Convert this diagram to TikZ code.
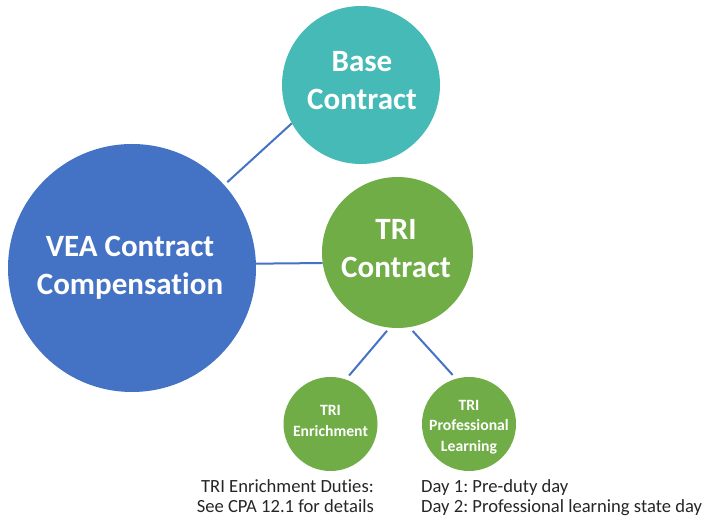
\documentclass[tikz,border=0pt]{standalone}
\usepackage{fontspec}
\setmainfont{Carlito}[RawFeature=-liga]
\definecolor{veablue}{HTML}{4472C4}
\definecolor{baseteal}{HTML}{46BAB6}
\definecolor{trigreen}{HTML}{70AD47}
\definecolor{lineblue}{HTML}{4472C4}
\frenchspacing
\begin{document}
\begin{tikzpicture}[x=1pt,y=-1pt,
  disc/.style={circle, inner sep=0pt, draw=none},
  bigtext/.style={text=white, align=center, inner sep=0pt, font=\fontsize{31}{38}\selectfont\bfseries},
  smalltext/.style={text=white, align=center, inner sep=0pt, font=\fontsize{15.7}{20.5}\selectfont\bfseries},
  notetext/.style={text=black!85, inner sep=0pt, font=\fontsize{18.6}{20}\selectfont},
  link/.style={draw=lineblue, line width=2pt}]
\useasboundingbox (0,0) rectangle (705,518);
% circles
\node[disc, fill=veablue, minimum size=248pt] (vea) at (132,268) {};
\node[disc, fill=baseteal, minimum size=158pt] (base) at (361,85) {};
\node[disc, fill=trigreen, minimum size=151pt] (tri) at (397.5,252.5) {};
\node[disc, fill=trigreen, minimum size=94pt] (enr) at (330.5,424) {};
\node[disc, fill=trigreen, minimum size=94pt] (prof) at (469,424) {};
% texts
\node[bigtext] (veat) at (130,267.5) {VEA Contract\\Compensation};
\node[bigtext] (baset) at (362,80.5) {Base\\Contract};
\node[bigtext] (trit) at (396,248.5) {TRI\\Contract};
\node[smalltext] (enrt) at (330.5,421) {TRI\\Enrichment};
\node[smalltext] (proft) at (469,427) {TRI\\Professional\\Learning};
\node[notetext, align=right, anchor=north east] (enrnote) at (374,479) {TRI Enrichment Duties:\\See CPA 12.1 for details};
\node[notetext, align=left, anchor=north west] (profnote) at (421,479) {Day 1: Pre-duty day\\Day 2: Professional learning state day};
% connectors
\draw[link, shorten <=4pt] (vea.42.2) -- (base.209.5);
\draw[link] (vea.2.3) -- (tri.188);
\draw[link, shorten <=4pt, shorten >=5pt] (tri.264.6) -- (enr.71.7);
\draw[link, shorten <=5pt, shorten >=5pt] (tri.279) -- (prof.106.7);
\end{tikzpicture}
\end{document}
